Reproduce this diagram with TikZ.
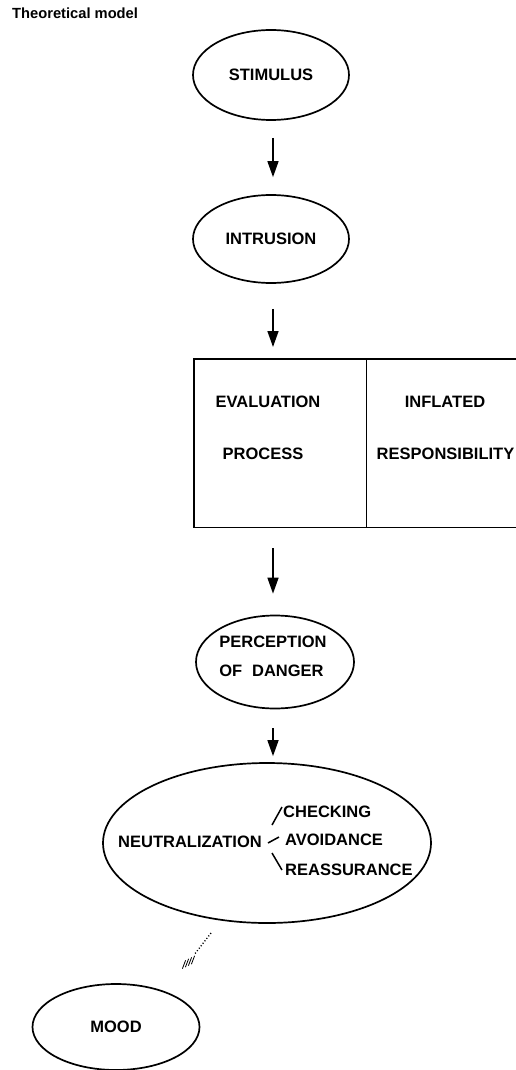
\documentclass[tikz,border=0pt]{standalone}
\usepackage{fontspec}
\setmainfont{Liberation Sans}
\usetikzlibrary{shapes.geometric,arrows.meta,calc}
\begin{document}
\begin{tikzpicture}[x=1pt,y=-1pt,
  every node/.style={font=\fontsize{16.5}{20}\bfseries\selectfont, inner sep=0pt},
  oval/.style={draw, ellipse, line width=1.7pt, inner sep=0pt},
  frame/.style={line width=1.8pt},
  arr/.style={line width=1.5pt, -{Triangle[width=11pt,length=16pt]}},
  branch/.style={line width=1.5pt},
  dotline/.style={line width=1.3pt, dash pattern=on 1.1pt off 2pt},
  tick/.style={line width=0.8pt}
]
\useasboundingbox (0,0) rectangle (516,1070);
\node[anchor=base west, font=\fontsize{14.7}{17}\bfseries\selectfont] (title) at (12,19) {Theoretical model};

\node[oval, minimum width=156, minimum height=90] (stim) at (271,75) {STIMULUS};
\node[oval, minimum width=156, minimum height=88] (intr) at (271,239) {INTRUSION};

\node[minimum width=172, minimum height=168, anchor=north west] (eval) at (194,359) {};
\node[minimum width=150, minimum height=168, anchor=north west] (resp) at (366,359) {};
\draw[frame] (resp.north east) -- (eval.north west) -- (eval.south west) -- (resp.south east);
\draw[frame] (eval.north east) -- (eval.south east);
\node (evt) at (268,402) {EVALUATION};
\node (prt) at (263,454) {PROCESS};
\node (inf) at (445,402) {INFLATED};
\node (rst) at (445.5,454) {RESPONSIBILITY};

\node[oval, minimum width=158, minimum height=93] (perc) at (275,662) {};
\node (p1) at (273,642) {PERCEPTION};
\node (p2) at (271.5,671) {OF\hspace{0.6em}DANGER};

\node[oval, minimum width=328, minimum height=160] (neut) at (267,843) {};
\node[anchor=west] (neu) at (118,842) {NEUTRALIZATION};
\node[anchor=west] (chk) at (283,812) {CHECKING};
\node[anchor=west] (avo) at (285,840) {AVOIDANCE};
\node[anchor=west] (rea) at (285,870) {REASSURANCE};
\draw[branch] ($(neu.east)+(10,-17)$) -- ($(neu.east)+(20,-35)$);
\draw[branch] ($(neu.east)+(6,1)$) -- ($(neu.east)+(17,-5)$);
\draw[branch] ($(neu.east)+(10,11)$) -- ($(neu.east)+(20,28)$);

\node[oval, minimum width=167, minimum height=86] (mood) at (116,1027) {MOOD};

\draw[arr] ($(stim.south)+(2,17)$) -- ($(intr.north)+(2,-17)$);
\draw[arr] ($(intr.south)+(2,25)$) -- ($(intr.south |- eval.north)+(2,-12)$);
\draw[arr] ($(intr.south |- eval.south)+(2,21)$) -- ($(perc.north)+(-2,-21)$);
\draw[arr] ($(perc.south)+(-2,19)$) -- ($(neut.north)+(6,-6)$);

\coordinate (d1) at (211,933);
\coordinate (d2) at (194,955);
\draw[dotline] (d1) -- (d2);
\foreach \i in {0,1,2,3}{
  \draw[tick] ($(193,960)+(-3*\i,1.5*\i)+(-1.6,4.2)$) -- ++(3.2,-8.4);
}
\end{tikzpicture}
\end{document}
